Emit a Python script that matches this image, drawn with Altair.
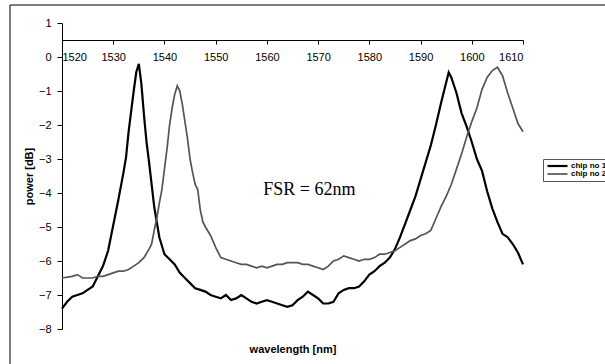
import altair as alt
import pandas as pd

wl1 = [1520, 1521, 1522, 1523, 1524, 1525, 1526, 1527, 1528, 1529, 1530, 1531, 1532, 1532.5,
       1533, 1533.5, 1534, 1534.5, 1535, 1535.5, 1536, 1536.5, 1537, 1538, 1539, 1540, 1541,
       1542, 1543, 1544, 1545, 1546, 1547, 1548, 1549, 1550, 1551, 1552, 1553, 1554, 1555,
       1556, 1557, 1558, 1559, 1560, 1561, 1562, 1563, 1564, 1565, 1566, 1567, 1568, 1569,
       1570, 1571, 1572, 1573, 1574, 1575, 1576, 1577, 1578, 1579, 1580, 1581, 1582, 1583,
       1584, 1585, 1586, 1587, 1588, 1589, 1590, 1591, 1592, 1593, 1594, 1595, 1595.5, 1596,
       1597, 1598, 1599, 1600, 1601, 1602, 1603, 1604, 1605, 1606, 1607, 1608, 1609, 1610]
chip1 = [-7.4, -7.2, -7.05, -7.0, -6.95, -6.85, -6.75, -6.45, -6.15, -5.7, -4.95, -4.2, -3.4, -2.95,
         -2.2, -1.6, -1.0, -0.45, -0.2, -0.8, -1.7, -2.5, -3.1, -4.4, -5.3, -5.8, -5.95,
         -6.1, -6.35, -6.5, -6.65, -6.8, -6.85, -6.9, -7.0, -7.05, -7.1, -7.0, -7.15, -7.1, -7.0,
         -7.1, -7.2, -7.25, -7.2, -7.15, -7.2, -7.25, -7.3, -7.35, -7.3, -7.15, -7.05, -6.9, -7.0,
         -7.1, -7.25, -7.25, -7.2, -6.95, -6.85, -6.8, -6.8, -6.75, -6.6, -6.4, -6.3, -6.15, -6.05,
         -5.9, -5.65, -5.3, -4.9, -4.5, -4.1, -3.6, -3.1, -2.6, -2.0, -1.35, -0.75, -0.45, -0.6,
         -1.05, -1.65, -2.05, -2.5, -3.0, -3.35, -3.95, -4.45, -4.85, -5.2, -5.3, -5.5, -5.75, -6.1]

wl2 = [1520, 1522, 1523, 1524, 1525, 1526, 1527, 1528, 1529, 1530, 1531, 1532, 1533, 1534,
       1535, 1536, 1537, 1537.5, 1538, 1538.5, 1539, 1539.5, 1540, 1540.5, 1541, 1541.5, 1542,
       1542.5, 1543, 1543.5, 1544, 1544.5, 1545, 1545.5, 1546, 1546.5, 1547, 1547.5, 1548, 1549,
       1550, 1551, 1552, 1553, 1554, 1555, 1556, 1557, 1558, 1559, 1560, 1561, 1562, 1563, 1564,
       1565, 1566, 1567, 1568, 1569, 1570, 1571, 1572, 1573, 1574, 1575, 1576, 1577, 1578, 1579,
       1580, 1581, 1582, 1583, 1584, 1585, 1586, 1587, 1588, 1589, 1590, 1591, 1592, 1593, 1594,
       1595, 1596, 1597, 1598, 1599, 1600, 1601, 1602, 1603, 1604, 1605, 1606, 1607, 1608, 1609,
       1610]
chip2 = [-6.5, -6.45, -6.4, -6.5, -6.5, -6.5, -6.45, -6.45, -6.4, -6.35, -6.3, -6.3, -6.25, -6.15,
         -6.05, -5.9, -5.65, -5.5, -5.1, -4.75, -4.3, -3.9, -3.3, -2.7, -2.0, -1.5, -1.1,
         -0.85, -1.0, -1.4, -1.9, -2.4, -3.0, -3.4, -3.75, -3.9, -4.5, -4.85, -5.0, -5.25,
         -5.6, -5.9, -5.95, -6.0, -6.05, -6.1, -6.1, -6.15, -6.2, -6.15, -6.2, -6.15, -6.1, -6.1, -6.05,
         -6.05, -6.05, -6.1, -6.1, -6.15, -6.2, -6.25, -6.15, -6.0, -5.95, -5.85, -5.9, -5.95, -6.0, -5.95,
         -5.95, -5.9, -5.8, -5.8, -5.75, -5.7, -5.6, -5.5, -5.4, -5.35, -5.25, -5.2, -5.1, -4.75, -4.4,
         -4.1, -3.75, -3.3, -2.85, -2.35, -1.9, -1.5, -0.95, -0.6, -0.4, -0.3, -0.55, -1.05, -1.5, -1.95,
         -2.2]

series = ["chip no 1", "chip no 2"]
colors = ["#000000", "#555555"]
x_ticks = [1520, 1530, 1540, 1550, 1560, 1570, 1580, 1590, 1600, 1610]
y_ticks = [1, 0, -1, -2, -3, -4, -5, -6, -7, -8]

df = pd.concat([
    pd.DataFrame({"wavelength": wl1, "power": chip1, "chip": series[0]}),
    pd.DataFrame({"wavelength": wl2, "power": chip2, "chip": series[1]}),
])

xscale = alt.Scale(domain=[1520, 1610], nice=False, zero=False)
yscale = alt.Scale(domain=[-8, 1], nice=False, zero=False)

xaxis = alt.Axis(values=x_ticks, format="d", orient="bottom", offset=-289,
                 tickSize=4, labelPadding=7, title="wavelength [nm]",
                 titleY=309, titleBaseline="middle", titleFontWeight="bold",
                 titleFontSize=11, labelOverlap=False)
yaxis = alt.Axis(values=y_ticks, format="d", tickSize=5, labelPadding=6,
                 title="power [dB]", titleX=-33, titleY=153, titleAngle=-90,
                 titleBaseline="middle", titleAlign="center",
                 titleFontWeight="bold", titleFontSize=11, labelOverlap=False)

lines = alt.Chart(df).mark_line().encode(
    x=alt.X("wavelength:Q", scale=xscale, axis=xaxis),
    y=alt.Y("power:Q", scale=yscale, axis=yaxis),
    color=alt.Color("chip:N", scale=alt.Scale(domain=series, range=colors),
                    legend=alt.Legend(title=None, orient="none", legendX=481, legendY=136,
                                      symbolType="stroke", symbolSize=400,
                                      symbolStrokeWidth=1, labelFontSize=8,
                                      labelFontWeight="bold", padding=3, rowPadding=0,
                                      clipHeight=8, labelOffset=2,
                                      strokeColor="#555555")),
    strokeWidth=alt.StrokeWidth("chip:N", scale=alt.Scale(domain=series, range=[2.2, 1.7]),
                                legend=None),
)

ann = alt.Chart(pd.DataFrame({"x": [1568.3], "y": [-3.9], "t": ["FSR = 62nm"]})).mark_text(
    font="Liberation Serif", fontSize=18, color="black", align="center", baseline="middle"
).encode(x=alt.X("x:Q", scale=xscale, axis=xaxis),
         y=alt.Y("y:Q", scale=yscale, axis=yaxis), text="t:N")

frame = alt.Chart(pd.DataFrame({"a": [0]})).mark_rect(
    fill=None, stroke="black", strokeWidth=1
).encode(x=alt.value(-52), x2=alt.value(700), y=alt.value(-18), y2=alt.value(400))

chart = alt.layer(frame, lines, ann).properties(
    width=461, height=306,
    autosize=alt.AutoSizeParams(type="none"),
    padding={"left": 62, "top": 23, "right": 82, "bottom": 35},
).configure_view(stroke=None).configure_axis(
    grid=False, domainColor="black", tickColor="black", labelColor="black",
    titleColor="black", labelFont="Liberation Sans", titleFont="Liberation Sans",
    labelFontSize=11, domainWidth=1, tickWidth=1,
).configure_legend(labelFont="Liberation Sans")

chart.save("out.html", embed_options={"renderer": "svg", "actions": False})
